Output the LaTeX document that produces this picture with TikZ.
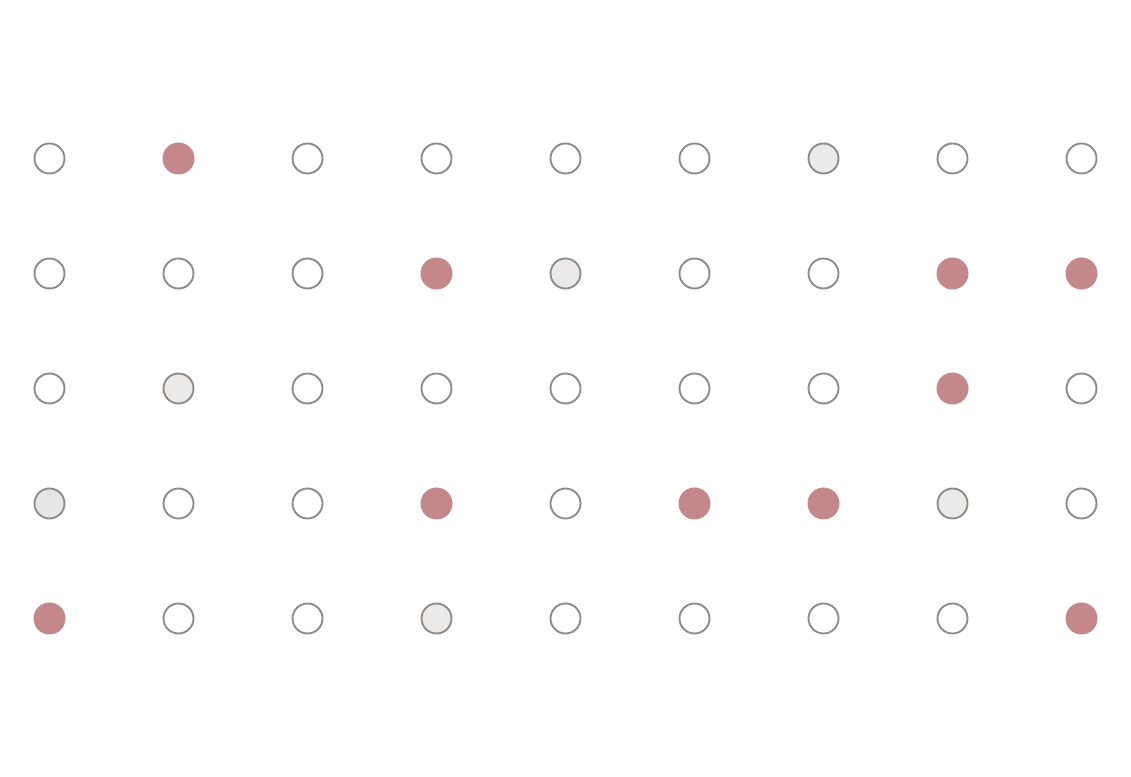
\documentclass[tikz,border=0pt]{standalone}
\definecolor{dotred}{HTML}{C4888A}
\definecolor{dotgray}{HTML}{EBEAE8}
\definecolor{dotgrayb}{HTML}{E6E6E6}
\definecolor{dotline}{HTML}{8C8C8C}
\tikzset{
  dot/.style={circle,inner sep=0pt,minimum size=30pt,draw=dotline,line width=1.9pt,fill=white},
  reddot/.style={dot,draw=none,fill=dotred,minimum size=32pt},
  graydot/.style={dot,fill=dotgray},
  graydotb/.style={dot,fill=dotgrayb}
}
\begin{document}
\begin{tikzpicture}[x=1pt,y=1pt]
\useasboundingbox (0,0) rectangle (1131,776);
\foreach \r/\row in {0/{0,1,0,0,0,0,2,0,0},1/{0,0,0,1,2,0,0,1,1},2/{0,2,0,0,0,0,0,1,0},3/{3,0,0,1,0,1,1,2,0},4/{1,0,0,2,0,0,0,0,1}}{
  \foreach \t [count=\c from 0] in \row {
    \pgfmathsetmacro{\xx}{49.5+129*\c}
    \pgfmathsetmacro{\yy}{776-158.5-115*\r}
    \ifcase\t
      \node[dot] (n\r-\c) at (\xx,\yy) {};
    \or
      \node[reddot] (n\r-\c) at (\xx,\yy) {};
    \or
      \node[graydot] (n\r-\c) at (\xx,\yy) {};
    \or
      \node[graydotb] (n\r-\c) at (\xx,\yy) {};
    \fi
  }
}
\end{tikzpicture}
\end{document}
